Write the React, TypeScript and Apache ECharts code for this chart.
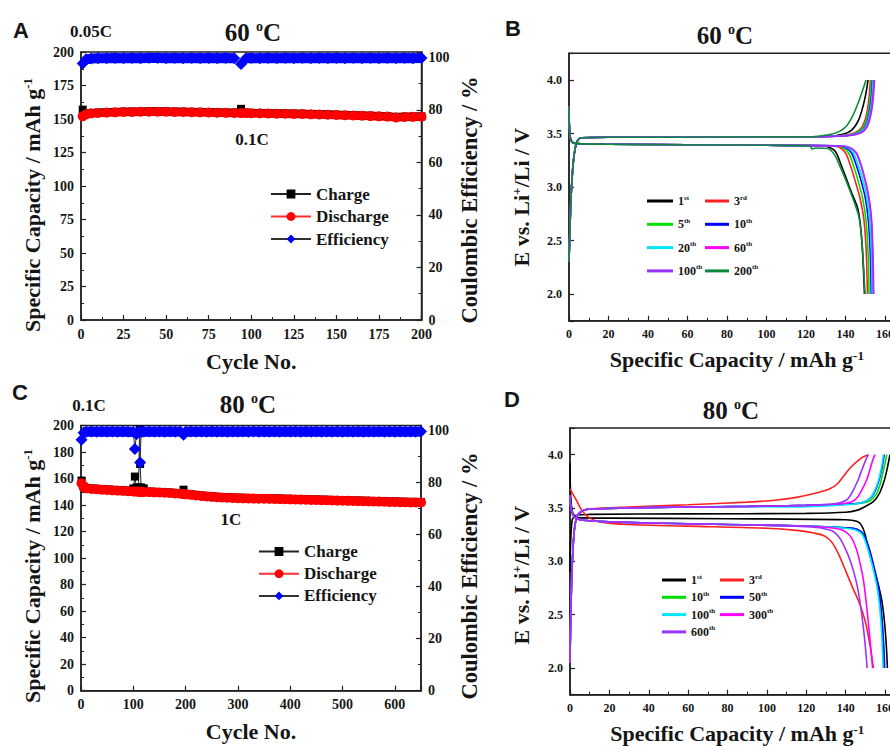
import React, { useEffect, useRef } from 'react';
import * as echarts from 'echarts';

const SERIF = '"Liberation Serif", "Times New Roman", serif';
const SANS = '"Liberation Sans", Arial, sans-serif';
const INK = '#151515';

// ---------- Panel A (60 °C cycling) ----------
const CYCLES_A = [1, 3, 6, 10, 15, 20, 25, 30, 35, 40, 45, 50, 55, 60, 65, 70, 75, 80, 85, 90, 94, 97, 100, 105, 110, 115, 120, 125, 130, 135, 140, 145, 150, 155, 160, 165, 170, 175, 180, 185, 190, 195, 200];
const CHARGE_A = [157, 154, 154.5, 154.8, 155.1, 155.3, 155.5, 155.6, 155.7, 155.8, 155.8, 155.7, 155.6, 155.5, 155.4, 155.3, 155.2, 155, 154.9, 154.8, 157.6, 154.7, 154.6, 154.5, 154.4, 154.3, 154.2, 154.1, 154, 153.8, 153.7, 153.5, 153.3, 153.1, 152.9, 152.7, 152.5, 152.3, 152.1, 151.7, 151.8, 151.9, 152];
const DISCHARGE_A = [152, 153.5, 154.2, 154.5, 154.8, 155, 155.2, 155.3, 155.4, 155.5, 155.5, 155.4, 155.3, 155.2, 155.1, 155, 154.9, 154.7, 154.6, 154.5, 154.4, 154.4, 154.3, 154.2, 154.1, 154, 153.9, 153.8, 153.7, 153.5, 153.4, 153.2, 153, 152.8, 152.6, 152.4, 152.2, 152, 151.8, 151.2, 151.5, 151.6, 151.7];
const EFF_A = [97.6, 99.2, 99.5, 99.6, 99.6, 99.7, 99.6, 99.7, 99.6, 99.7, 99.7, 99.6, 99.7, 99.6, 99.7, 99.6, 99.7, 99.6, 99.7, 99.6, 97.4, 99.6, 99.7, 99.6, 99.7, 99.6, 99.7, 99.6, 99.7, 99.6, 99.7, 99.6, 99.7, 99.6, 99.7, 99.6, 99.7, 99.6, 99.7, 99.6, 99.7, 99.6, 99.7];

// ---------- Panel C (80 °C cycling) ----------
const CYCLES_C = [1, 5, 10, 20, 30, 40, 50, 60, 70, 80, 90, 100, 103, 106, 110, 112, 113, 115, 120, 130, 140, 150, 160, 170, 180, 190, 196, 200, 210, 220, 230, 240, 250, 260, 270, 280, 290, 300, 310, 320, 330, 340, 350, 360, 370, 380, 390, 400, 410, 420, 430, 440, 450, 460, 470, 480, 490, 500, 510, 520, 530, 540, 550, 560, 570, 580, 590, 600, 610, 620, 630, 640, 650];
const DISCHARGE_C = [156.5, 153.5, 152.6, 152.2, 151.9, 151.6, 151.4, 151.1, 150.9, 150.7, 150.5, 150.3, 150.2, 150.2, 150.1, 150.1, 150, 150, 149.9, 149.8, 149.6, 149.5, 149.3, 149.1, 148.8, 148.5, 148.3, 148.1, 147.7, 147.3, 146.9, 146.5, 146.2, 145.9, 145.7, 145.5, 145.3, 145.2, 145.1, 145, 144.9, 144.8, 144.8, 144.7, 144.6, 144.5, 144.4, 144.3, 144.2, 144.1, 144, 143.9, 143.8, 143.7, 143.6, 143.5, 143.4, 143.3, 143.2, 143.1, 143, 142.9, 142.8, 142.7, 142.6, 142.5, 142.4, 142.3, 142.2, 142.1, 142, 142, 141.9];
const CHARGE_C = [158.5, 154, 153, 152.6, 152.3, 152, 151.8, 151.5, 151.3, 151.1, 150.9, 152.5, 161.5, 153.2, 153.3, 197, 171, 153.3, 152.6, 150.2, 150, 149.9, 149.7, 149.5, 149.2, 148.9, 151.6, 148.5, 148.1, 147.7, 147.3, 146.9, 146.6, 146.3, 146.1, 145.9, 145.7, 145.6, 145.5, 145.4, 145.3, 145.2, 145.2, 145.1, 145, 144.9, 144.8, 144.7, 144.6, 144.5, 144.4, 144.3, 144.2, 144.1, 144, 143.9, 143.8, 143.7, 143.6, 143.5, 143.4, 143.3, 143.2, 143.1, 143, 142.9, 142.8, 142.7, 142.6, 142.5, 142.4, 142.4, 142.3];
const EFF_C = [96.5, 99.2, 99.6, 99.7, 99.6, 99.7, 99.6, 99.7, 99.6, 99.7, 99.6, 99.5, 93, 98.6, 99.6, 99.8, 87.8, 99.5, 99.6, 99.7, 99.6, 99.7, 99.6, 99.7, 99.6, 99.7, 98.4, 99.6, 99.7, 99.6, 99.7, 99.6, 99.7, 99.6, 99.7, 99.6, 99.7, 99.6, 99.7, 99.6, 99.7, 99.6, 99.7, 99.6, 99.7, 99.6, 99.7, 99.6, 99.7, 99.6, 99.7, 99.6, 99.7, 99.6, 99.7, 99.6, 99.7, 99.6, 99.7, 99.6, 99.7, 99.6, 99.7, 99.6, 99.7, 99.6, 99.7, 99.6, 99.7, 99.6, 99.7, 99.6, 99.7];

// ---------- Panel B (60 °C voltage profiles) [capacity, voltage] ----------
const B_CHG_START = [[0, 2.3], [0.8, 2.8], [1.8, 3.15], [3, 3.35], [4.5, 3.44], [6.5, 3.46], [20, 3.465], [60, 3.465], [100, 3.47], [120, 3.47]];
const B_DIS_START = [[0, 3.75], [0.4, 3.5], [1.5, 3.42], [4, 3.405], [20, 3.4], [60, 3.395], [100, 3.39]];
const B1_CHG = [[132, 3.475], [138, 3.49], [143, 3.53], [146.5, 3.62], [148.8, 3.75], [150.3, 3.87], [151.4, 4.0]];
const B3_CHG = [[134, 3.475], [140, 3.485], [145, 3.51], [148.3, 3.56], [150.4, 3.66], [151.7, 3.8], [152.6, 4.0]];
const B5_CHG = [[134, 3.475], [141, 3.485], [146, 3.51], [149, 3.56], [151, 3.66], [152.3, 3.8], [153.1, 4.0]];
const B10_CHG = [[135, 3.475], [142, 3.485], [147, 3.51], [149.8, 3.56], [151.7, 3.66], [152.9, 3.8], [153.7, 4.0]];
const B20_CHG = [[135, 3.475], [142, 3.485], [147.2, 3.51], [150.1, 3.56], [152, 3.66], [153.2, 3.8], [154, 4.0]];
const B60_CHG = [[136, 3.475], [143, 3.485], [148, 3.51], [150.6, 3.56], [152.4, 3.66], [153.6, 3.8], [154.4, 4.0]];
const B100_CHG = [[136, 3.475], [143, 3.485], [148.2, 3.51], [150.9, 3.56], [152.7, 3.66], [153.9, 3.8], [154.7, 4.0]];
const B200_CHG = [[126, 3.475], [132, 3.49], [137, 3.52], [140.5, 3.57], [143.5, 3.66], [146.5, 3.79], [148.6, 3.9], [150.4, 4.0]];
const B1_DIS = [[128, 3.385], [132, 3.37], [135, 3.33], [137.5, 3.22], [140, 3.1], [143, 2.95], [146.2, 2.8], [147.8, 2.6], [148.9, 2.3], [149.6, 2.0]];
const B3_DIS = [[132, 3.385], [137, 3.37], [140, 3.32], [142.5, 3.2], [145, 3.05], [147.3, 2.9], [149.3, 2.7], [150.5, 2.4], [151.1, 2.0]];
const B5_DIS = [[133, 3.385], [138.5, 3.37], [141.5, 3.32], [144, 3.2], [146.5, 3.05], [148.6, 2.9], [150.3, 2.7], [151.4, 2.4], [151.9, 2.0]];
const B10_DIS = [[134, 3.385], [140, 3.37], [143, 3.32], [145.5, 3.2], [148, 3.05], [150, 2.9], [151.5, 2.7], [152.5, 2.4], [153, 2.0]];
const B20_DIS = [[135, 3.385], [141, 3.37], [144, 3.32], [146.5, 3.2], [149, 3.05], [150.8, 2.9], [152.2, 2.7], [153.1, 2.4], [153.5, 2.0]];
const B60_DIS = [[136, 3.385], [142, 3.37], [145.5, 3.32], [148, 3.2], [150.2, 3.05], [151.9, 2.9], [153.2, 2.7], [153.9, 2.4], [154.3, 2.0]];
const B100_DIS = [[136, 3.385], [142, 3.37], [145.3, 3.32], [147.8, 3.2], [150, 3.05], [151.7, 2.9], [153, 2.7], [153.7, 2.4], [154.1, 2.0]];
const B200_DIS = [[122, 3.385], [123, 3.355], [125, 3.365], [131, 3.36], [134.5, 3.3], [137.5, 3.18], [140.5, 3.05], [144, 2.88], [146.8, 2.72], [148.3, 2.5], [149.3, 2.2], [149.9, 2.0]];

// ---------- Panel D (80 °C voltage profiles) ----------
const D_CHG_START = [[0, 2.05], [0.8, 2.8], [2, 3.25], [3.5, 3.42], [6, 3.47], [10, 3.49], [30, 3.5], [60, 3.51], [90, 3.515]];
const D_DIS_START = [[0, 3.62], [0.5, 3.5], [2, 3.42], [5, 3.39], [15, 3.375], [40, 3.36], [80, 3.345], [110, 3.335]];
const D1_CHG = [[0, 2.9], [1, 3.38], [3, 3.43], [10, 3.44], [60, 3.445], [120, 3.45], [140, 3.46], [146, 3.48], [149.5, 3.51], [153, 3.545], [155.5, 3.59], [157.5, 3.65], [159.5, 3.75], [161, 3.86], [162, 3.95], [162.5, 4.0]];
const D3_CHG = [[0, 2.1], [1, 2.9], [2.5, 3.35], [5, 3.46], [10, 3.49], [30, 3.51], [60, 3.53], [90, 3.555], [105, 3.575], [115, 3.6], [125, 3.64], [132, 3.68], [136, 3.73], [139, 3.8], [142.5, 3.88], [146, 3.94], [149, 3.98], [151.5, 4.0]];
const D10_CHG = [[120, 3.525], [140, 3.535], [148, 3.545], [151.5, 3.56], [153.5, 3.585], [155.8, 3.64], [157.5, 3.72], [158.8, 3.82], [160, 3.92], [160.9, 4.0]];
const D50_CHG = [[120, 3.525], [140, 3.535], [147, 3.545], [150.5, 3.565], [153, 3.6], [155, 3.66], [156.8, 3.75], [158.3, 3.86], [159.6, 4.0]];
const D100_CHG = [[110, 3.51], [125, 3.515], [140, 3.53], [147, 3.545], [150.5, 3.565], [152.8, 3.6], [154.9, 3.67], [156.7, 3.76], [158.2, 3.88], [159.2, 4.0]];
const D300_CHG = [[120, 3.525], [134, 3.535], [140, 3.545], [143.9, 3.565], [146, 3.6], [148, 3.66], [150.6, 3.76], [152.5, 3.87], [153.8, 3.95], [154.9, 4.0]];
const D600_CHG = [[120, 3.525], [132, 3.535], [137, 3.55], [140.5, 3.575], [142.5, 3.62], [144.5, 3.69], [146.5, 3.77], [148.3, 3.86], [150, 3.94], [151.5, 4.0]];
const D1_DIS = [[0, 3.92], [0.4, 3.6], [1.5, 3.45], [4, 3.41], [20, 3.405], [80, 3.4], [140, 3.39], [145.6, 3.375], [148, 3.34], [149.8, 3.26], [151.5, 3.12], [153.5, 2.98], [155.8, 2.84], [158.3, 2.64], [159.8, 2.42], [160.7, 2.2], [161.2, 2.0]];
const D3_DIS = [[0, 3.68], [3, 3.58], [6, 3.48], [9, 3.42], [15, 3.37], [30, 3.345], [60, 3.33], [100, 3.31], [115, 3.29], [124, 3.265], [129, 3.24], [132.5, 3.19], [135, 3.12], [137.1, 3.04], [140.5, 2.89], [143.9, 2.74], [147.2, 2.6], [150.2, 2.42], [152.5, 2.2], [154.1, 2.0]];
const D10_DIS = [[130, 3.325], [140, 3.315], [145.6, 3.3], [148.9, 3.26], [151.5, 3.14], [154.1, 2.96], [156.6, 2.74], [158.2, 2.47], [159, 2.2], [159.4, 2.0]];
const D50_DIS = [[130, 3.325], [140, 3.315], [145.8, 3.3], [149.2, 3.25], [151.8, 3.13], [154.4, 2.95], [156.9, 2.73], [158.5, 2.46], [159.4, 2.2], [159.8, 2.0]];
const D100_DIS = [[130, 3.325], [140, 3.31], [145, 3.295], [148.5, 3.25], [151, 3.13], [153.7, 2.95], [156.2, 2.73], [157.8, 2.46], [158.6, 2.2], [159, 2.0]];
const D300_DIS = [[120, 3.33], [130, 3.32], [137.1, 3.3], [140.5, 3.27], [143, 3.22], [145, 3.14], [146.6, 3.04], [148.9, 2.84], [150.8, 2.56], [152.2, 2.3], [153.2, 2.1], [153.7, 2.0]];
const D600_DIS = [[120, 3.325], [128, 3.31], [133.7, 3.28], [136.5, 3.23], [138.8, 3.16], [141, 3.07], [143, 2.97], [145, 2.84], [146.6, 2.7], [148.2, 2.5], [149.6, 2.28], [150.4, 2.12], [150.9, 2.0]];

// legend labels
const LEGEND_TEXT: Record<string, string> = {
  A_C: 'Charge', A_D: 'Discharge', A_E: 'Efficiency',
  C_C: 'Charge', C_D: 'Discharge', C_E: 'Efficiency',
  B1: '1{s|st}', B3: '3{s|rd}', B5: '5{s|th}', B10: '10{s|th}', B20: '20{s|th}', B60: '60{s|th}', B100: '100{s|th}', B200: '200{s|th}',
  D1: '1{s|st}', D3: '3{s|rd}', D10: '10{s|th}', D50: '50{s|th}', D100: '100{s|th}', D300: '300{s|th}', D600: '600{s|th}',
};
const CAP_TITLE = 'Specific Capacity / mAh g{sup|-1}';
const EFF_TITLE = 'Coulombic Efficiency / %';
const VOLT_TITLE = 'E vs. Li{sup|+}/Li / V';

const zip = (xs: number[], ys: (number | null)[]) => xs.map((x, i) => [x, ys[i]]);

const tickLabel = { fontFamily: SERIF, fontWeight: 'bold', fontSize: 14, color: INK, margin: 7 };
const nameStyle = {
  fontFamily: SERIF, fontWeight: 'bold', fontSize: 22, color: INK,
  rich: { sup: { fontFamily: SERIF, fontWeight: 'bold', fontSize: 13, color: INK, verticalAlign: 'top', lineHeight: 22 } },
};

function valAxis(extra: any) {
  return {
    type: 'value',
    axisLine: { show: true, onZero: false, lineStyle: { color: '#222', width: 1.5 } },
    axisTick: { show: true, inside: true, length: 5, lineStyle: { color: '#222', width: 1.2 } },
    minorTick: { show: true, splitNumber: 2, length: 3, lineStyle: { color: '#222', width: 1 } },
    splitLine: { show: false },
    minorSplitLine: { show: false },
    axisLabel: { ...tickLabel },
    nameTextStyle: nameStyle,
    ...extra,
  };
}

function minorAxis(extra: any) {
  return {
    type: 'value',
    axisLine: { show: false, onZero: false },
    axisTick: { show: true, inside: true, length: 3, lineStyle: { color: '#222', width: 1 } },
    axisLabel: { show: false },
    splitLine: { show: false },
    ...extra,
  };
}

const halfFormatter = (v: number) => (Math.abs(v * 2 - Math.round(v * 2)) < 1e-6 ? v.toFixed(1) : '');
const multipleOf = (m: number) => (v: number) => (Math.abs(v / m - Math.round(v / m)) < 1e-6 ? String(v) : '');

function curve(name: string, color: string, data: number[][], xi: number, yi: number) {
  return {
    type: 'line', name, data, xAxisIndex: xi, yAxisIndex: yi,
    symbol: 'none', showSymbol: false, smooth: 0.3,
    lineStyle: { color, width: 1.6 }, itemStyle: { color },
  };
}

function capSeries(prefix: string, cycles: number[], chg: number[], dis: number[], eff: number[], xi: number, yl: number, yr: number) {
  // the dense marker tracks: a thick stroke through the same points, broken at outliers
  const effTrack = eff.map((v) => (v >= 99 ? v : null));
  return [
    {
      type: 'line', name: prefix + '_C', data: zip(cycles, chg), xAxisIndex: xi, yAxisIndex: yl,
      symbol: 'rect', symbolSize: 8, showSymbol: true,
      lineStyle: { color: '#222', width: 1 }, itemStyle: { color: '#000' },
    },
    {
      type: 'line', name: prefix + '_Dtrack', data: zip(cycles, dis), xAxisIndex: xi, yAxisIndex: yl,
      symbol: 'none', showSymbol: false, lineStyle: { color: '#ff0000', width: 8.5 }, itemStyle: { color: '#ff0000' },
    },
    {
      type: 'line', name: prefix + '_D', data: zip(cycles, dis), xAxisIndex: xi, yAxisIndex: yl,
      symbol: 'circle', symbolSize: 10, showSymbol: true,
      lineStyle: { color: '#ff3030', width: 1 }, itemStyle: { color: '#ff0000' },
    },
    {
      type: 'line', name: prefix + '_Etrack', data: zip(cycles, effTrack), xAxisIndex: xi, yAxisIndex: yr,
      symbol: 'none', showSymbol: false, connectNulls: false, lineStyle: { color: '#0000ff', width: 10 }, itemStyle: { color: '#0000ff' },
    },
    {
      type: 'line', name: prefix + '_E', data: zip(cycles, eff), xAxisIndex: xi, yAxisIndex: yr,
      symbol: 'diamond', symbolSize: 12, showSymbol: true,
      lineStyle: { color: '#333', width: 1 }, itemStyle: { color: '#0000ff' },
    },
  ];
}

const B_COLORS: Record<string, string> = { B1: '#000000', B3: '#ff2020', B5: '#00e000', B10: '#0000ff', B20: '#00e5ff', B60: '#ff00ff', B100: '#9933ff', B200: '#0a8a3a' };
const D_COLORS: Record<string, string> = { D1: '#000000', D3: '#ff2020', D10: '#00dd00', D50: '#0000ff', D100: '#00e5ff', D300: '#ff00ff', D600: '#9933ff' };

function titleText(x: number, y: number, text: string, size: number, font = SERIF, rotation = 0) {
  return {
    type: 'text', x, y, rotation, silent: true,
    style: {
      text, fill: INK, fontFamily: font, fontWeight: 'bold', fontSize: size,
      align: 'center', verticalAlign: 'middle',
      rich: {
        o: { fontFamily: SERIF, fontWeight: 'bold', fontSize: Math.round(size * 0.58), fill: INK, verticalAlign: 'top', lineHeight: size },
        sup: { fontFamily: SERIF, fontWeight: 'bold', fontSize: Math.round(size * 0.6), fill: INK, verticalAlign: 'top', lineHeight: size },
      },
    },
  };
}

function legendBlock(names: string[], left: number, top: number, w: number, h: number, gap: number, fontSize: number, icon?: string) {
  const l: any = {
    orient: 'vertical', left, top, itemWidth: w, itemHeight: h, itemGap: gap,
    data: names, selectedMode: false, padding: 0,
    formatter: (n: string) => LEGEND_TEXT[n],
    textStyle: {
      fontFamily: SERIF, fontWeight: 'bold', fontSize, color: INK, lineHeight: fontSize + 2,
      rich: { s: { fontFamily: SERIF, fontWeight: 'bold', fontSize: Math.round(fontSize * 0.62), color: INK, verticalAlign: 'top', lineHeight: fontSize + 2 } },
    },
  };
  if (icon) l.icon = icon;
  return l;
}

export default function App() {
  const ref = useRef<HTMLDivElement>(null);
  useEffect(() => {
    if (!ref.current) return;
    const chart = echarts.init(ref.current, null, { renderer: 'svg' });

    const gridStyle = { show: true, borderColor: '#222', borderWidth: 1.5, backgroundColor: 'transparent' };
    const R90 = Math.PI / 2;
    const option: any = {
      animation: false,
      backgroundColor: '#ffffff',
      grid: [
        { left: 81, top: 52, width: 340.5, height: 268, ...gridStyle },
        { left: 569, top: 53.25, width: 335.75, height: 267.5, ...gridStyle },
        { left: 81, top: 425.5, width: 340, height: 265.2, ...gridStyle },
        { left: 570, top: 428, width: 334.7, height: 266.7, ...gridStyle },
      ],
      xAxis: [
        valAxis({ gridIndex: 0, min: 0, max: 200, interval: 25, name: 'Cycle No.', nameLocation: 'middle', nameGap: 30 }),
        valAxis({ gridIndex: 1, min: 0, max: 170, interval: 20, name: CAP_TITLE, nameLocation: 'middle', nameGap: 28, axisLabel: { ...tickLabel, fontSize: 12, formatter: multipleOf(20) } }),
        valAxis({ gridIndex: 2, min: 0, max: 650, interval: 100, minorTick: { show: false }, name: 'Cycle No.', nameLocation: 'middle', nameGap: 30, axisLabel: { ...tickLabel, formatter: multipleOf(100) } }),
        minorAxis({ gridIndex: 2, min: 0, max: 650, interval: 50 }),
        valAxis({ gridIndex: 3, min: 0, max: 170, interval: 20, name: CAP_TITLE, nameLocation: 'middle', nameGap: 28, axisLabel: { ...tickLabel, fontSize: 12, formatter: multipleOf(20) } }),
      ],
      yAxis: [
        valAxis({ gridIndex: 0, min: 0, max: 200, interval: 25 }),
        valAxis({ gridIndex: 0, position: 'right', min: 0, max: 102, interval: 20, axisLabel: { ...tickLabel, formatter: multipleOf(20) } }),
        valAxis({ gridIndex: 1, min: 1.75, max: 4.25, splitNumber: 5, minorTick: { show: false }, axisLabel: { ...tickLabel, fontSize: 12, formatter: halfFormatter } }),
        minorAxis({ gridIndex: 1, min: 1.75, max: 4.25, interval: 0.25 }),
        valAxis({ gridIndex: 2, min: 0, max: 200, interval: 20 }),
        valAxis({ gridIndex: 2, position: 'right', min: 0, max: 102, interval: 20, axisLabel: { ...tickLabel, formatter: multipleOf(20) } }),
        valAxis({ gridIndex: 3, min: 1.75, max: 4.25, splitNumber: 5, minorTick: { show: false }, axisLabel: { ...tickLabel, fontSize: 12, formatter: halfFormatter } }),
        minorAxis({ gridIndex: 3, min: 1.75, max: 4.25, interval: 0.25 }),
      ],
      legend: [
        legendBlock(['A_C', 'A_D', 'A_E'], 270, 184.5, 40, 11, 3.5, 17),
        legendBlock(['C_C', 'C_D', 'C_E'], 258, 542, 40, 11, 3.2, 17),
        legendBlock(['B1', 'B5', 'B20', 'B100'], 647, 194, 26, 3, 9.3, 12, 'rect'),
        legendBlock(['B3', 'B10', 'B60', 'B200'], 705, 194, 24, 3, 9.3, 12, 'rect'),
        legendBlock(['D1', 'D10', 'D100', 'D600'], 662, 573, 24, 3, 3.3, 12, 'rect'),
        legendBlock(['D3', 'D50', 'D300'], 720, 573, 24, 3, 3.3, 12, 'rect'),
      ],
      series: [
        ...capSeries('A', CYCLES_A, CHARGE_A, DISCHARGE_A, EFF_A, 0, 0, 1),
        ...capSeries('C', CYCLES_C, CHARGE_C, DISCHARGE_C, EFF_C, 2, 4, 5),
        curve('B1', B_COLORS.B1, [...B_CHG_START, ...B1_CHG], 1, 2),
        curve('B1', B_COLORS.B1, [...B_DIS_START, ...B1_DIS], 1, 2),
        curve('B3', B_COLORS.B3, [...B_CHG_START, ...B3_CHG], 1, 2),
        curve('B3', B_COLORS.B3, [...B_DIS_START, ...B3_DIS], 1, 2),
        curve('B5', B_COLORS.B5, [...B_CHG_START, ...B5_CHG], 1, 2),
        curve('B5', B_COLORS.B5, [...B_DIS_START, ...B5_DIS], 1, 2),
        curve('B10', B_COLORS.B10, [...B_CHG_START, ...B10_CHG], 1, 2),
        curve('B10', B_COLORS.B10, [...B_DIS_START, ...B10_DIS], 1, 2),
        curve('B20', B_COLORS.B20, [...B_CHG_START, ...B20_CHG], 1, 2),
        curve('B20', B_COLORS.B20, [...B_DIS_START, ...B20_DIS], 1, 2),
        curve('B60', B_COLORS.B60, [...B_CHG_START, ...B60_CHG], 1, 2),
        curve('B60', B_COLORS.B60, [...B_DIS_START, ...B60_DIS], 1, 2),
        curve('B100', B_COLORS.B100, [...B_CHG_START, ...B100_CHG], 1, 2),
        curve('B100', B_COLORS.B100, [...B_DIS_START, ...B100_DIS], 1, 2),
        curve('B200', B_COLORS.B200, [...B_CHG_START, ...B200_CHG], 1, 2),
        curve('B200', B_COLORS.B200, [...B_DIS_START, ...B200_DIS], 1, 2),
        curve('D1', D_COLORS.D1, D1_CHG, 4, 6),
        curve('D1', D_COLORS.D1, D1_DIS, 4, 6),
        curve('D3', D_COLORS.D3, D3_CHG, 4, 6),
        curve('D3', D_COLORS.D3, D3_DIS, 4, 6),
        curve('D10', D_COLORS.D10, [...D_CHG_START, ...D10_CHG], 4, 6),
        curve('D10', D_COLORS.D10, [...D_DIS_START, ...D10_DIS], 4, 6),
        curve('D50', D_COLORS.D50, [...D_CHG_START, ...D50_CHG], 4, 6),
        curve('D50', D_COLORS.D50, [...D_DIS_START, ...D50_DIS], 4, 6),
        curve('D100', D_COLORS.D100, [...D_CHG_START, ...D100_CHG], 4, 6),
        curve('D100', D_COLORS.D100, [...D_DIS_START, ...D100_DIS], 4, 6),
        curve('D300', D_COLORS.D300, [...D_CHG_START, ...D300_CHG], 4, 6),
        curve('D300', D_COLORS.D300, [...D_DIS_START, ...D300_DIS], 4, 6),
        curve('D600', D_COLORS.D600, [...D_CHG_START, ...D600_CHG], 4, 6),
        curve('D600', D_COLORS.D600, [...D_DIS_START, ...D600_DIS], 4, 6),
      ],
      graphic: [
        titleText(21, 30, 'A', 22, SANS),
        titleText(91, 31, '0.05C', 17),
        titleText(253, 32, '60 {o|o}C', 25),
        titleText(252, 139, '0.1C', 17),
        titleText(513, 28, 'B', 22, SANS),
        titleText(725, 35, '60 {o|o}C', 25),
        titleText(20, 392, 'C', 22, SANS),
        titleText(89, 405, '0.1C', 17),
        titleText(248, 404, '80 {o|o}C', 25),
        titleText(231, 519, '1C', 17),
        titleText(512, 399, 'D', 22, SANS),
        titleText(731, 410, '80 {o|o}C', 25),
        // rotated axis titles
        titleText(32, 205, CAP_TITLE, 22, SERIF, R90),
        titleText(469, 200, EFF_TITLE, 22.5, SERIF, R90),
        titleText(32, 576, CAP_TITLE, 22, SERIF, R90),
        titleText(469, 576, EFF_TITLE, 22.5, SERIF, R90),
        titleText(521, 197, VOLT_TITLE, 22, SERIF, R90),
        titleText(521, 575, VOLT_TITLE, 22, SERIF, R90),
      ],
    };
    chart.setOption(option);
    return () => chart.dispose();
  }, []);
  return (
    <div style={{ position: 'absolute', left: 0, top: 0, width: 890, height: 746, overflow: 'hidden', background: '#fff' }}>
      <div ref={ref} style={{ width: 930, height: 746 }} />
    </div>
  );
}
